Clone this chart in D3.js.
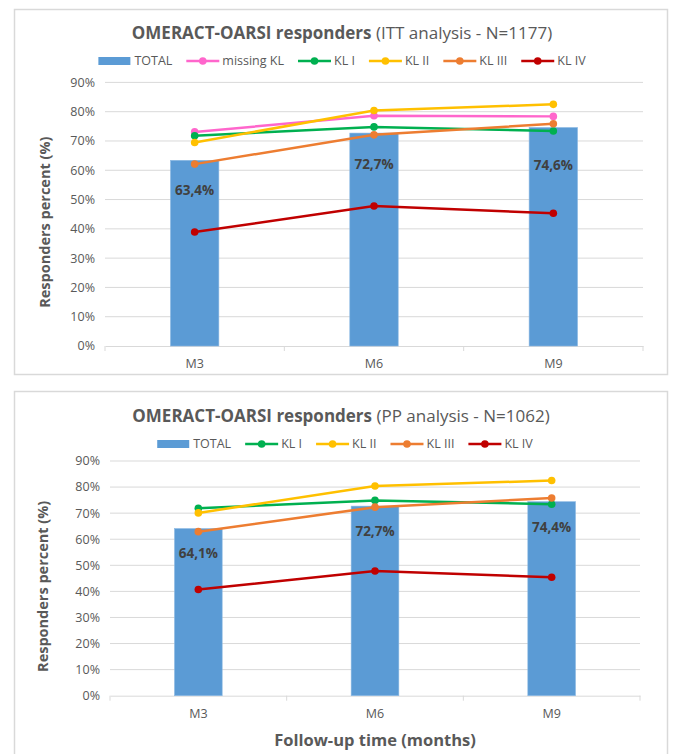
<!DOCTYPE html>
<html>
<head>
<meta charset="utf-8">
<script src="https://cdn.jsdelivr.net/npm/d3@7"></script>
<style>
  body { margin: 0; background: #fff; }
  text { font-family: "Open Sans", "Noto Sans", sans-serif; }
</style>
</head>
<body>
<div id="chart"></div>
<script>
(function () {

    const months = ['M3', 'M6', 'M9'];
    const yTicks = [0, 10, 20, 30, 40, 50, 60, 70, 80, 90];

    // ITT analysis
    const ittTotal = [63.4, 72.7, 74.6];
    const ittMissing = [73.1, 78.6, 78.4];
    const ittKL1 = [71.8, 74.8, 73.4];
    const ittKL2 = [69.5, 80.4, 82.5];
    const ittKL3 = [62.1, 72.1, 75.9];
    const ittKL4 = [38.9, 47.8, 45.3];

    // PP analysis
    const ppTotal = [64.1, 72.7, 74.4];
    const ppKL1 = [71.9, 74.9, 73.4];
    const ppKL2 = [70.1, 80.4, 82.5];
    const ppKL3 = [62.9, 72.3, 75.8];
    const ppKL4 = [40.7, 47.8, 45.4];

    const colors = {
        total: '#5B9BD5',
        missing: '#FF66CC',
        kl1: '#00B050',
        kl2: '#FFC000',
        kl3: '#ED7D31',
        kl4: '#C00000'
    };

    const svg = d3.select('#chart')
        .append('svg')
        .attr('width', 674)
        .attr('height', 754);

    function drawChart(opt) {
        const g = svg.append('g');

        // outer frame
        g.append('rect')
            .attr('x', opt.box[0] + 0.5)
            .attr('y', opt.box[1] + 0.5)
            .attr('width', opt.box[2])
            .attr('height', opt.box[3])
            .attr('fill', '#fff')
            .attr('stroke', '#D9D9D9')
            .attr('stroke-width', 1.5);

        const x = d3.scaleBand()
            .domain(months)
            .range([opt.left, opt.right]);

        const y = d3.scaleLinear()
            .domain([0, 90])
            .range([opt.bottom, opt.top]);

        // gridlines
        g.append('g')
            .selectAll('line')
            .data(yTicks.slice(1))
            .enter()
            .append('line')
            .attr('x1', opt.left)
            .attr('x2', opt.right)
            .attr('y1', d => y(d))
            .attr('y2', d => y(d))
            .attr('stroke', '#D9D9D9')
            .attr('stroke-width', 1);

        // y tick labels
        g.append('g')
            .selectAll('text')
            .data(yTicks)
            .enter()
            .append('text')
            .attr('x', opt.left - 10)
            .attr('y', d => y(d))
            .attr('dy', '0.35em')
            .attr('text-anchor', 'end')
            .attr('font-size', 12.5)
            .attr('fill', '#595959')
            .text(d => d + '%');

        // x axis
        const xAxis = g.append('g')
            .attr('transform', `translate(0, ${opt.bottom})`)
            .call(d3.axisBottom(x).tickSize(0).tickPadding(13));
        xAxis.select('.domain').attr('stroke', '#D9D9D9').attr('stroke-width', 1);
        xAxis.selectAll('text')
            .attr('font-size', 12.5)
            .attr('fill', '#595959')
            .style('font-family', '"Open Sans", "Noto Sans", sans-serif');
        xAxis.selectAll('.bound')
            .data([opt.left, ...months.map(m => x(m) + x.bandwidth())])
            .enter()
            .append('line')
            .attr('x1', d => d)
            .attr('x2', d => d)
            .attr('y1', 0)
            .attr('y2', 5)
            .attr('stroke', '#D9D9D9');

        // bars
        const bw = x.bandwidth() * 0.27;
        g.append('g')
            .selectAll('rect')
            .data(opt.total)
            .enter()
            .append('rect')
            .attr('x', (d, i) => x(months[i]) + x.bandwidth() / 2 - bw / 2)
            .attr('y', d => y(d))
            .attr('width', bw)
            .attr('height', d => opt.bottom - y(d))
            .attr('fill', colors.total)
            .attr('stroke', '#8DB9E3')
            .attr('stroke-width', 0.6);

        // lines
        const line = d3.line()
            .x((d, i) => x(months[i]) + x.bandwidth() / 2)
            .y(d => y(d));

        opt.series.forEach(s => {
            g.append('path')
                .datum(s.values)
                .attr('d', line)
                .attr('fill', 'none')
                .attr('stroke', s.color)
                .attr('stroke-width', 2.5);
            g.append('g')
                .selectAll('circle')
                .data(s.values)
                .enter()
                .append('circle')
                .attr('cx', (d, i) => x(months[i]) + x.bandwidth() / 2)
                .attr('cy', d => y(d))
                .attr('r', 3.8)
                .attr('fill', s.color);
        });

        // bar value labels
        g.append('g')
            .selectAll('text')
            .data(opt.total)
            .enter()
            .append('text')
            .attr('x', (d, i) => x(months[i]) + x.bandwidth() / 2)
            .attr('y', (d, i) => y(d) + opt.labelOffset[i])
            .attr('dy', '0.35em')
            .attr('text-anchor', 'middle')
            .attr('font-size', 13.5)
            .attr('font-weight', 'bold')
            .attr('fill', '#404040')
            .text(d => d.toFixed(1).replace('.', ',') + '%');

        // title
        const title = g.append('text')
            .attr('x', opt.titleX)
            .attr('y', opt.titleY)
            .attr('dy', '0.35em')
            .attr('text-anchor', 'middle')
            .attr('font-size', 17)
            .attr('fill', '#595959');
        title.append('tspan')
            .attr('font-weight', 'bold')
            .text('OMERACT-OARSI responders');
        title.append('tspan')
            .text(' ' + opt.subtitle);

        // y axis title
        g.append('text')
            .attr('transform', `translate(${opt.yTitleX}, ${(opt.top + opt.bottom) / 2 + 8}) rotate(-90)`)
            .attr('text-anchor', 'middle')
            .attr('dy', '0.35em')
            .attr('font-size', 14.5)
            .attr('font-weight', 'bold')
            .attr('fill', '#595959')
            .text('Responders percent (%)');

        // legend
        const items = [{ name: 'TOTAL', color: colors.total, bar: true }]
            .concat(opt.series.map(s => ({ name: s.name, color: s.color })));
        const leg = g.append('g')
            .attr('transform', `translate(0, ${opt.legendY})`);
        let cx = 0;
        items.forEach(it => {
            const item = leg.append('g').attr('transform', `translate(${cx}, 0)`);
            if (it.bar) {
                item.append('rect')
                    .attr('x', 0).attr('y', -4)
                    .attr('width', 32).attr('height', 8)
                    .attr('fill', it.color);
            } else {
                item.append('line')
                    .attr('x1', 0).attr('x2', 33)
                    .attr('y1', 0).attr('y2', 0)
                    .attr('stroke', it.color)
                    .attr('stroke-width', 2.5);
                item.append('circle')
                    .attr('cx', 16.5).attr('cy', 0).attr('r', 3.8)
                    .attr('fill', it.color);
            }
            const t = item.append('text')
                .attr('x', 36)
                .attr('dy', '0.35em')
                .attr('font-size', 12.5)
                .attr('fill', '#595959')
                .text(it.name);
            cx += 36 + t.node().getComputedTextLength() + 14;
        });
        leg.attr('transform', `translate(${opt.legendX - (cx - 14) / 2}, ${opt.legendY})`);

        if (opt.xTitle) {
            g.append('text')
                .attr('x', (opt.left + opt.right) / 2)
                .attr('y', opt.xTitleY)
                .attr('dy', '0.35em')
                .attr('text-anchor', 'middle')
                .attr('font-size', 16.5)
                .attr('font-weight', 'bold')
                .attr('fill', '#595959')
                .text(opt.xTitle);
        }
    }

    drawChart({
        box: [14, 9, 653, 365],
        left: 105, right: 643, top: 82.4, bottom: 346,
        total: ittTotal,
        series: [
            { name: 'missing KL', color: colors.missing, values: ittMissing },
            { name: 'KL I', color: colors.kl1, values: ittKL1 },
            { name: 'KL II', color: colors.kl2, values: ittKL2 },
            { name: 'KL III', color: colors.kl3, values: ittKL3 },
            { name: 'KL IV', color: colors.kl4, values: ittKL4 }
        ],
        labelOffset: [30, 31, 38],
        subtitle: '(ITT analysis - N=1177)',
        titleX: 342, titleY: 33,
        legendX: 342, legendY: 61,
        yTitleX: 45
    });

    drawChart({
        box: [14, 391, 653, 380],
        left: 110, right: 640, top: 461, bottom: 695.7,
        total: ppTotal,
        series: [
            { name: 'KL I', color: colors.kl1, values: ppKL1 },
            { name: 'KL II', color: colors.kl2, values: ppKL2 },
            { name: 'KL III', color: colors.kl3, values: ppKL3 },
            { name: 'KL IV', color: colors.kl4, values: ppKL4 }
        ],
        labelOffset: [25, 25, 26],
        subtitle: '(PP analysis - N=1062)',
        titleX: 341, titleY: 416,
        legendX: 345, legendY: 444,
        yTitleX: 43,
        xTitle: 'Follow-up time (months)',
        xTitleY: 740
    });

})();
</script>
</body>
</html>
